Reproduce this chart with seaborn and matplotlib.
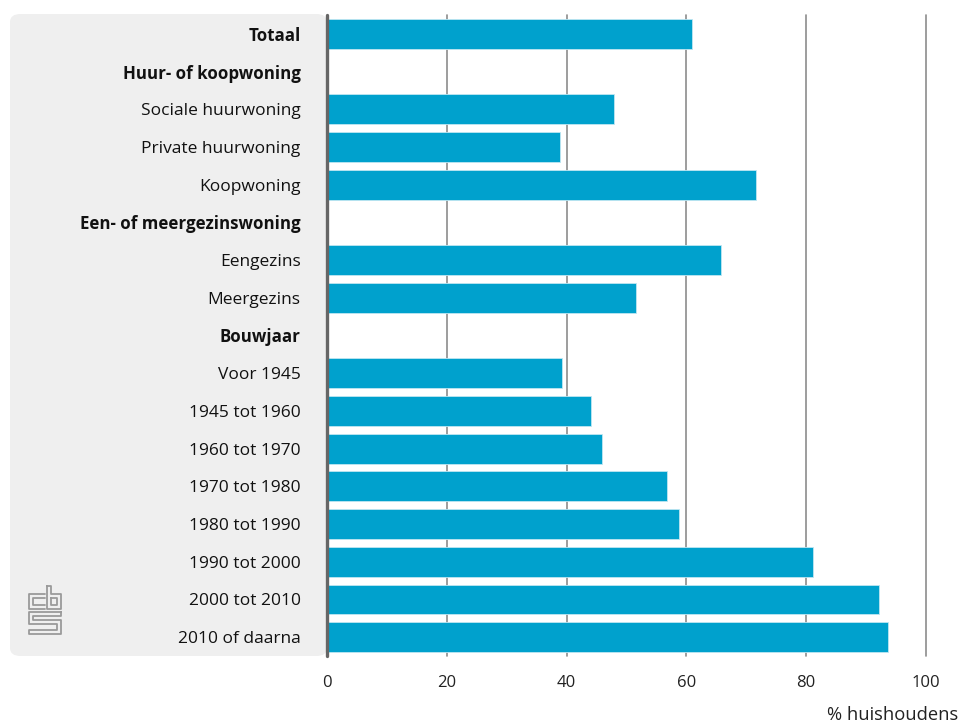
import matplotlib
matplotlib.use('AGG')
import matplotlib.pyplot as plt
from matplotlib.patches import FancyBboxPatch
from matplotlib.lines import Line2D
import pandas as pd
import seaborn as sns

labels = ['Totaal', 'Huur- of koopwoning', 'Sociale huurwoning', 'Private huurwoning',
          'Koopwoning', 'Een- of meergezinswoning', 'Eengezins', 'Meergezins', 'Bouwjaar',
          'Voor 1945', '1945 tot 1960', '1960 tot 1970', '1970 tot 1980', '1980 tot 1990',
          '1990 tot 2000', '2000 tot 2010', '2010 of daarna']
values = [61.0, 0, 47.9, 38.9, 71.6, 0, 65.8, 51.6, 0,
          39.2, 44.1, 45.9, 56.8, 58.7, 81.2, 92.2, 93.7]
bold_labels = ['Totaal', 'Huur- of koopwoning', 'Een- of meergezinswoning', 'Bouwjaar']
x_ticks = [0, 20, 40, 60, 80, 100]

sns.set_style('white')
plt.rcParams['font.family'] = ['Open Sans', 'DejaVu Sans']

W, H = 959, 724
fig = plt.figure(figsize=(W / 100, H / 100), dpi=100)


def px(x, y):
    return x / W, 1 - y / H


# grey label panel behind the category names
panel = FancyBboxPatch(px(10, 656), 317 / W, 642 / H,
                       boxstyle='round,pad=0,rounding_size=0.011',
                       transform=fig.transFigure, facecolor='#efefef',
                       edgecolor='none', zorder=-5)
fig.patches.append(panel)

ax = fig.add_axes([327 / W, 1 - 656 / H, 599 / W, 641 / H])
ax.set_facecolor('none')

df = pd.DataFrame({'label': labels, 'value': values})
sns.barplot(data=df, x='value', y='label', orient='h', color='#00a1cd',
            saturation=1, width=0.79, linewidth=0.6, edgecolor='#bfe6f2',
            ax=ax, zorder=3)
for p, v in zip(ax.patches, values):
    if v == 0:
        p.set_visible(False)

ax.set_xlim(0, 100)
ax.set_ylim(len(labels) - 0.5, -0.5)
ax.set_xticks(x_ticks)
ax.set_xticklabels([str(t) for t in x_ticks])
for t in x_ticks[1:]:
    ax.axvline(t, color='#8c8c8c', lw=1.2, zorder=1, clip_on=False)
ax.axvline(0, color='#666666', lw=2.4, zorder=4, clip_on=False)

for s in ax.spines.values():
    s.set_visible(False)
ax.tick_params(axis='y', length=0, pad=19, labelsize=12.5, labelcolor='#111111')
ax.tick_params(axis='x', length=0, pad=14, labelsize=12, labelcolor='#222222')
for tl in ax.get_yticklabels():
    if tl.get_text() in bold_labels:
        tl.set_fontweight('bold')
        tl.set_fontsize(12.2)
ax.set_xlabel('')
ax.set_ylabel('')

fig.text(958 / W, 1 - 715 / H, '% huishoudens', ha='right', va='center',
         fontsize=13.2, color='#222222')

# cbs logo, drawn as thin outlines
logo_paths = [
    [(45, 594), (29, 594), (29, 609), (45, 609)],
    [(45, 598), (33, 598), (33, 605), (45, 605)],
    [(47, 586), (47, 609), (61, 609), (61, 594), (51, 594), (51, 586), (47, 586)],
    [(51, 598), (57, 598), (57, 605), (51, 605), (51, 598)],
    [(61, 612), (29, 612), (29, 624), (57, 624), (57, 630), (29, 630), (29, 634),
     (61, 634), (61, 620), (33, 620), (33, 616), (61, 616), (61, 612)],
]
for path in logo_paths:
    xs = [x / W for x, _ in path]
    ys = [1 - y / H for _, y in path]
    fig.lines.append(Line2D(xs, ys, transform=fig.transFigure,
                            color='#9a9a9a', lw=1.3, zorder=2))

fig.savefig('out.png', dpi=100)
